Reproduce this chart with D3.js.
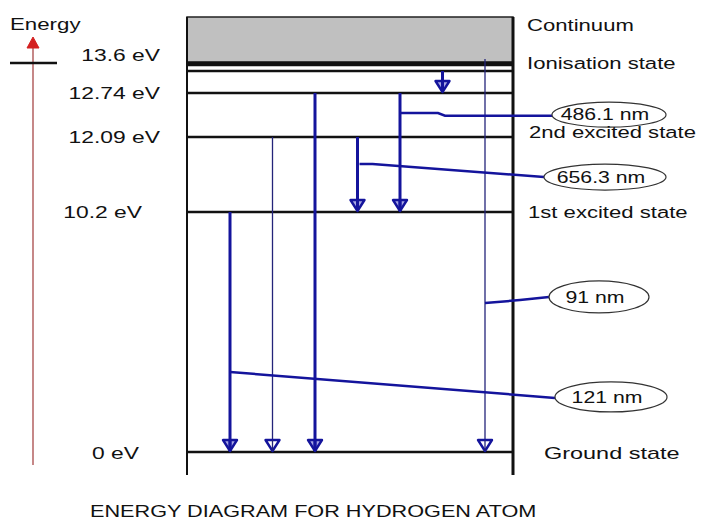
<!DOCTYPE html>
<html>
<head>
<meta charset="utf-8">
<script src="https://cdn.jsdelivr.net/npm/d3@7"></script>
<style>
  html, body { margin: 0; padding: 0; background: #fff; }
  svg { display: block; }
  text { font-family: "Liberation Sans", Arial, sans-serif; fill: #111; }
</style>
</head>
<body>
<svg id="chart" width="702" height="520"></svg>
<script>
// ---- data ----
const levelEnergies = [0, 10.2, 12.09, 12.74, 13.06, 13.6];
const levelLabels   = ["0 eV", "10.2 eV", "12.09 eV", "12.74 eV", "", "13.6 eV"];
const stateNames    = ["Ground state", "1st excited state", "2nd excited state", "", "", "Ionisation state"];
const continuumLabel = "Continuum";
const axisLabel = "Energy";
const title = "ENERGY DIAGRAM FOR HYDROGEN ATOM";

const transitionCols  = ["c0", "c1", "c2", "c3", "c4", "c5", "c6"];
const transitionFrom  = [10.2, 12.09, 12.74, 12.09, 12.74, 13.06, 13.6];
const transitionTo    = [0, 0, 0, 10.2, 10.2, 12.74, 0];
const transitionHeavy = [true, false, true, true, true, true, false];

const wavelengthLabels = ["486.1 nm", "656.3 nm", "91 nm", "121 nm"];
const wavelengthCol    = ["c4", "c3", "c6", "c0"];
const wavelengthAttachE = [12.445, 11.41, 6.33, 3.4];
const wavelengthLabelE  = [12.42, 11.08, 6.59, 2.34];

// ---- layout ----
const svg = d3.select("#chart");
const boxL = 187, boxR = 513, boxTop = 17, boxBottom = 475;
const blue = "#14149c";
const thinBlue = "#24247a";

const y = d3.scaleLinear()
  .domain(levelEnergies)
  .range([452, 212, 137, 93, 71, 64]);

const x = d3.scalePoint()
  .domain(transitionCols)
  .range([230, 485]);

function addText(sel, str, px, py, anchor, size, sx) {
  const g = sel.append("g").attr("transform", `translate(${px},${py}) scale(${sx || 1.32},1)`);
  g.append("text")
    .attr("text-anchor", anchor || "start")
    .attr("dominant-baseline", "central")
    .style("font-size", (size || 17) + "px")
    .text(str);
  return g;
}

// continuum box
svg.append("rect")
  .attr("x", boxL).attr("y", boxTop)
  .attr("width", boxR - boxL).attr("height", y(13.6) - 2 - boxTop)
  .attr("fill", "#c0c0c0").attr("stroke", "#222").attr("stroke-width", 1.5);

// box sides
svg.append("line").attr("x1", boxL).attr("x2", boxL).attr("y1", boxTop).attr("y2", boxBottom)
  .attr("stroke", "#111").attr("stroke-width", 2);
svg.append("line").attr("x1", boxR).attr("x2", boxR).attr("y1", boxTop).attr("y2", boxBottom)
  .attr("stroke", "#111").attr("stroke-width", 3);

// levels
svg.selectAll("line.level").data(levelEnergies).enter().append("line")
  .attr("class", "level")
  .attr("x1", boxL).attr("x2", boxR)
  .attr("y1", d => y(d)).attr("y2", d => y(d))
  .attr("stroke", "#111")
  .attr("stroke-width", d => d === 13.6 ? 4.5 : 2.4);

// transitions
const trans = transitionCols.map((c, i) => ({c, from: transitionFrom[i], to: transitionTo[i], heavy: transitionHeavy[i]}));
trans.forEach(t => {
  const cx = x(t.c);
  const y0 = t.from === 13.6 ? y(t.from) - 5 : y(t.from);
  const y1 = y(t.to);
  const col = t.heavy ? blue : thinBlue;
  svg.append("line").attr("x1", cx).attr("x2", cx).attr("y1", y0).attr("y2", y1 - 1)
    .attr("stroke", col).attr("stroke-width", t.heavy ? 3 : 1.3);
  svg.append("path")
    .attr("d", `M${cx - 7},${y1 - 12} L${cx + 7},${y1 - 12} L${cx},${y1 - 1} Z`)
    .attr("fill", t.heavy ? "#3a3ac0" : "#fff")
    .attr("fill-opacity", t.heavy ? 0.45 : 1)
    .attr("stroke", blue).attr("stroke-width", 2.4)
    .attr("stroke-linejoin", "round");
  svg.append("line").attr("x1", cx).attr("x2", cx).attr("y1", y1 - 12).attr("y2", y1 - 1)
    .attr("stroke", col).attr("stroke-width", t.heavy ? 3 : 1.3);
});

// wavelength callouts
const ell = {
  "486.1 nm": {cx: 609, rx: 57, ry: 12.5},
  "656.3 nm": {cx: 605, rx: 61, ry: 13},
  "91 nm":    {cx: 599, rx: 50, ry: 16},
  "121 nm":   {cx: 611, rx: 56, ry: 15}
};
wavelengthLabels.forEach((lab, i) => {
  const ax = x(wavelengthCol[i]);
  const ay = y(wavelengthAttachE[i]);
  const e = ell[lab];
  const ey = y(wavelengthLabelE[i]);
  const ex = e.cx - e.rx;
  let pts;
  if (lab === "486.1 nm") pts = [[ax, ay], [ax + 38, ay], [ax + 45, ey + 1], [ex, ey + 1]];
  else if (lab === "656.3 nm") pts = [[ax + 2, ay], [ax + 15, ay], [ex, ey]];
  else if (lab === "91 nm") pts = [[ax, ay], [ax + 35, ay - 3], [ex, ey]];
  else pts = [[ax, ay], [ex, ey + 1]];
  svg.append("path").attr("d", d3.line()(pts))
    .attr("fill", "none").attr("stroke", blue).attr("stroke-width", 2.5);
  svg.append("ellipse").attr("cx", e.cx).attr("cy", ey).attr("rx", e.rx).attr("ry", e.ry)
    .attr("fill", "none").attr("stroke", "#333").attr("stroke-width", 1.2);
  addText(svg, lab, e.cx - 4, ey, "middle", 17, 1.25);
});

// left energy labels
const labelRight = {"13.6 eV": 160, "12.74 eV": 160, "12.09 eV": 160, "10.2 eV": 142, "0 eV": 139};
levelEnergies.forEach((e, i) => {
  const lab = levelLabels[i];
  if (!lab) return;
  const dy = e === 13.6 ? -9 : e === 0 ? 1 : 0;
  addText(svg, lab, labelRight[lab], y(e) + dy, "end", 17.3);
});

// right state labels
const stateX = {"Ground state": 544, "1st excited state": 528, "2nd excited state": 529, "Ionisation state": 527};
levelEnergies.forEach((e, i) => {
  const s = stateNames[i];
  if (!s) return;
  const dy = e === 12.09 ? -5 : e === 0 ? 1 : e === 13.6 ? -1 : 0;
  addText(svg, s, stateX[s], y(e) + dy, "start", 17, e === 0 ? 1.38 : 1.3);
});
addText(svg, continuumLabel, 527, 25, "start", 17, 1.3);

// energy axis arrow
svg.append("line").attr("x1", 33).attr("x2", 33).attr("y1", 46).attr("y2", 465)
  .attr("stroke", "#b86a6a").attr("stroke-width", 1.6);
svg.append("path").attr("d", "M27,48 L39,48 L33,37 Z").attr("fill", "#d42020").attr("stroke", "#d42020").attr("stroke-width", 1);
svg.append("line").attr("x1", 10).attr("x2", 57).attr("y1", y(13.6) - 1).attr("y2", y(13.6) - 1)
  .attr("stroke", "#111").attr("stroke-width", 2.5);
addText(svg, axisLabel, 10, 24, "start", 16.5, 1.35);

// title
addText(svg, title, 90, 511, "start", 16.3, 1.33);
</script>
</body>
</html>
